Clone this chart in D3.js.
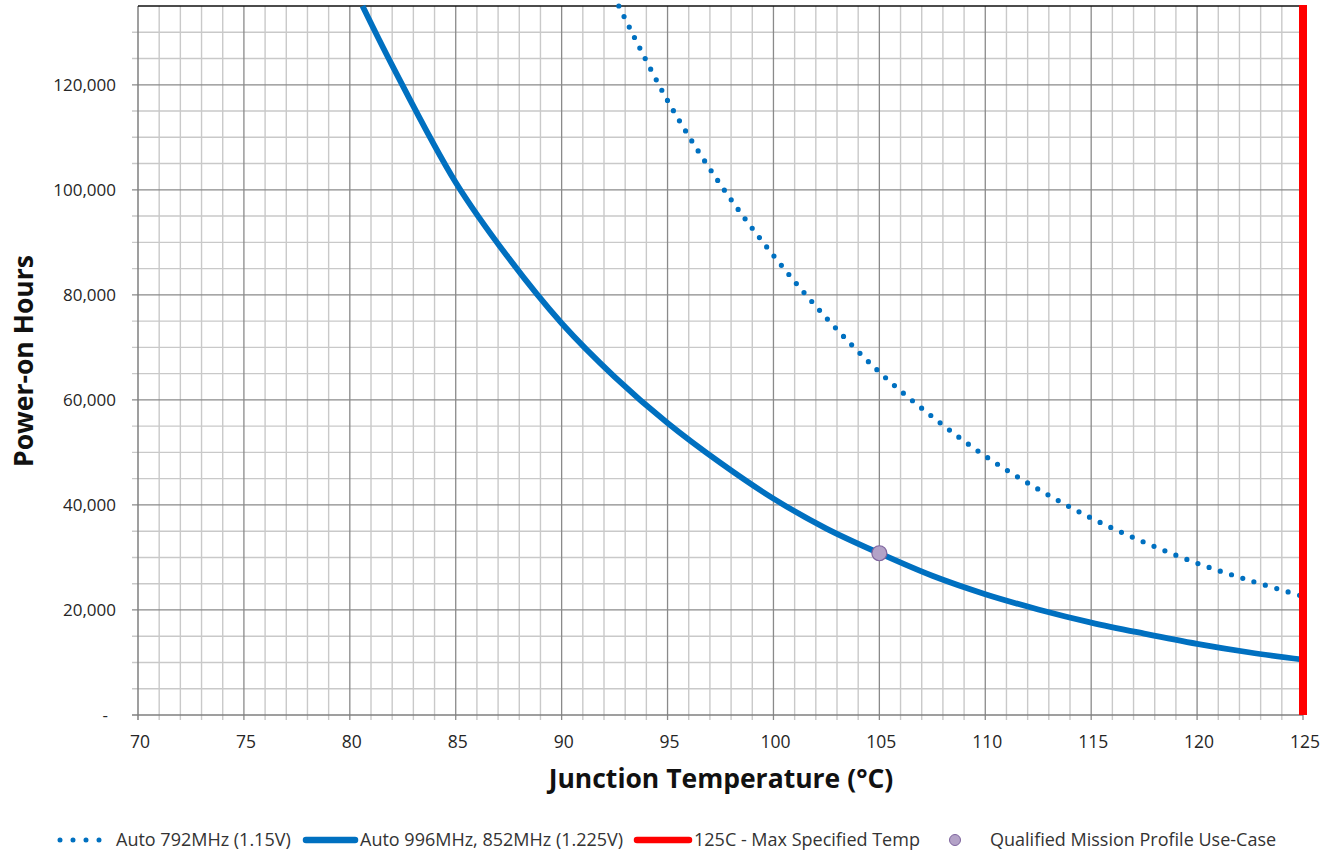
<!DOCTYPE html>
<html>
<head>
<meta charset="utf-8">
<script src="https://cdn.jsdelivr.net/npm/d3@7"></script>
<style>
  body { margin: 0; background: #fff; }
  svg { display: block; font-family: "Open Sans", sans-serif; }
</style>
</head>
<body>
<script>
// values
let tempsSolid = [80.6, 82, 85, 87.5, 90, 92.5, 95, 97.5, 100, 102.5, 105, 107.5, 110,
    112.5, 115, 117.5, 120, 122.5, 125]
let hoursSolid = [135000, 123700, 101400, 87000, 74600, 64400, 55600, 48000, 41200, 35500, 30800,
    26500, 23000, 20100, 17600, 15500, 13550, 11900, 10550]

let tempsDotted = [92.7, 95, 97.5, 100, 102.5, 105, 107.5, 110, 112.5, 115, 117.5, 120, 122.5, 125]
let hoursDotted = [135000, 117000, 101000, 87500, 75600, 65300, 56800, 49300, 43000, 37500,
    32900, 28900, 25600, 22600]

let maxTemp = 125
let useCase = { temp: 105, hours: 30800 }

let xTicks = d3.range(70, 126, 5)
let yTicks = d3.range(0, 120001, 20000)

let legendLabels = ["Auto 792MHz (1.15V)", "Auto 996MHz, 852MHz (1.225V)",
    "125C - Max Specified Temp", "Qualified Mission Profile Use-Case"]

let blue = "#0070c0"
let width = 1338
let height = 854
let plotLeft = 138, plotRight = 1303, plotTop = 6, plotBottom = 715

let x = d3.scaleLinear().domain([70, 125]).range([plotLeft, plotRight])
let y = d3.scaleLinear().domain([0, 135000]).range([plotBottom, plotTop])

let svg = d3.select("body").append("svg")
    .attr("width", width)
    .attr("height", height)

// grid, minor then major
let grid = svg.append("g")
grid.selectAll(".vminor")
    .data(d3.range(71, 125).filter(d => d % 5 != 0))
    .join("line")
    .attr("x1", d => x(d)).attr("x2", d => x(d))
    .attr("y1", plotTop).attr("y2", plotBottom + 5)
    .attr("stroke", "#c9c9c9").attr("stroke-width", 1.4)
grid.selectAll(".hminor")
    .data(d3.range(5000, 135000, 5000).filter(d => d % 20000 != 0))
    .join("line")
    .attr("x1", plotLeft - 6).attr("x2", plotRight)
    .attr("y1", d => y(d)).attr("y2", d => y(d))
    .attr("stroke", "#c9c9c9").attr("stroke-width", 1.4)
grid.selectAll(".vmajor")
    .data(xTicks.slice(1))
    .join("line")
    .attr("x1", d => x(d)).attr("x2", d => x(d))
    .attr("y1", plotTop).attr("y2", plotBottom + 5)
    .attr("stroke", "#8a8a8a").attr("stroke-width", 1.3)
grid.selectAll(".hmajor")
    .data(yTicks.slice(1))
    .join("line")
    .attr("x1", plotLeft - 6).attr("x2", plotRight)
    .attr("y1", d => y(d)).attr("y2", d => y(d))
    .attr("stroke", "#8a8a8a").attr("stroke-width", 1.3)

// axes lines
svg.append("line")
    .attr("x1", plotLeft).attr("x2", plotLeft).attr("y1", plotTop).attr("y2", plotBottom + 5)
    .attr("stroke", "#7f7f7f").attr("stroke-width", 1.5)
svg.append("line")
    .attr("x1", plotLeft - 6).attr("x2", plotRight).attr("y1", plotBottom).attr("y2", plotBottom)
    .attr("stroke", "#7f7f7f").attr("stroke-width", 1.5)
svg.append("line")
    .attr("x1", plotLeft).attr("x2", plotRight).attr("y1", plotTop).attr("y2", plotTop)
    .attr("stroke", "#111").attr("stroke-width", 1.6)

// tick labels
svg.append("g").selectAll("text")
    .data(xTicks)
    .join("text")
    .attr("x", d => x(d) + 2)
    .attr("y", 748)
    .attr("text-anchor", "middle")
    .attr("font-size", 17.5)
    .attr("fill", "#262626")
    .text(d => d)

svg.append("g").selectAll("text")
    .data(yTicks)
    .join("text")
    .attr("x", d => d == 0 ? 108 : 116)
    .attr("y", d => y(d) + 6)
    .attr("text-anchor", "end")
    .attr("font-size", 17)
    .attr("fill", "#262626")
    .text(d => d == 0 ? "-" : d3.format(",")(d))

// axis titles
svg.append("text")
    .attr("x", 721).attr("y", 788)
    .attr("text-anchor", "middle")
    .attr("font-size", 26.5).attr("font-weight", "bold")
    .attr("fill", "#111")
    .text("Junction Temperature (°C)")

svg.append("text")
    .attr("transform", "translate(33,361) rotate(-90)")
    .attr("text-anchor", "middle")
    .attr("font-size", 26.5).attr("font-weight", "bold")
    .attr("fill", "#111")
    .text("Power-on Hours")

// curves
let line = d3.line()
    .x(d => x(d[0]))
    .y(d => y(d[1]))
    .curve(d3.curveCatmullRom.alpha(0.5))

let plot = svg.append("g")

plot.append("path")
    .datum(d3.zip(tempsDotted, hoursDotted))
    .attr("d", line)
    .attr("fill", "none")
    .attr("stroke", blue)
    .attr("stroke-width", 5.2)
    .attr("stroke-linecap", "round")
    .attr("stroke-dasharray", "0 11.8")

plot.append("path")
    .datum(d3.zip(tempsSolid, hoursSolid))
    .attr("d", line)
    .attr("fill", "none")
    .attr("stroke", blue)
    .attr("stroke-width", 5.8)

plot.append("line")
    .attr("x1", x(maxTemp)).attr("x2", x(maxTemp))
    .attr("y1", plotTop - 1).attr("y2", plotBottom)
    .attr("stroke", "#ff0000")
    .attr("stroke-width", 8)

plot.append("circle")
    .attr("cx", x(useCase.temp))
    .attr("cy", y(useCase.hours))
    .attr("r", 7.5)
    .attr("fill", "#b3a2c7")
    .attr("stroke", "#7e649e")
    .attr("stroke-width", 1.2)

// legend
let legend = svg.append("g").attr("font-size", 18).attr("fill", "#333")
let ly = 840

legend.append("line")
    .attr("x1", 60).attr("x2", 112).attr("y1", ly).attr("y2", ly)
    .attr("stroke", blue).attr("stroke-width", 5)
    .attr("stroke-linecap", "round").attr("stroke-dasharray", "0 13")
legend.append("line")
    .attr("x1", 306).attr("x2", 355).attr("y1", ly).attr("y2", ly)
    .attr("stroke", blue).attr("stroke-width", 6.5).attr("stroke-linecap", "round")
legend.append("line")
    .attr("x1", 637).attr("x2", 689).attr("y1", ly).attr("y2", ly)
    .attr("stroke", "#ff0000").attr("stroke-width", 6.5).attr("stroke-linecap", "round")
legend.append("circle")
    .attr("cx", 955).attr("cy", ly).attr("r", 5.5)
    .attr("fill", "#b3a2c7").attr("stroke", "#7e649e").attr("stroke-width", 1)

let legendX = [116, 360, 694, 990]
legend.selectAll("text")
    .data(legendLabels)
    .join("text")
    .attr("x", (d, i) => legendX[i])
    .attr("y", ly + 6)
    .text(d => d)
</script>
</body>
</html>
